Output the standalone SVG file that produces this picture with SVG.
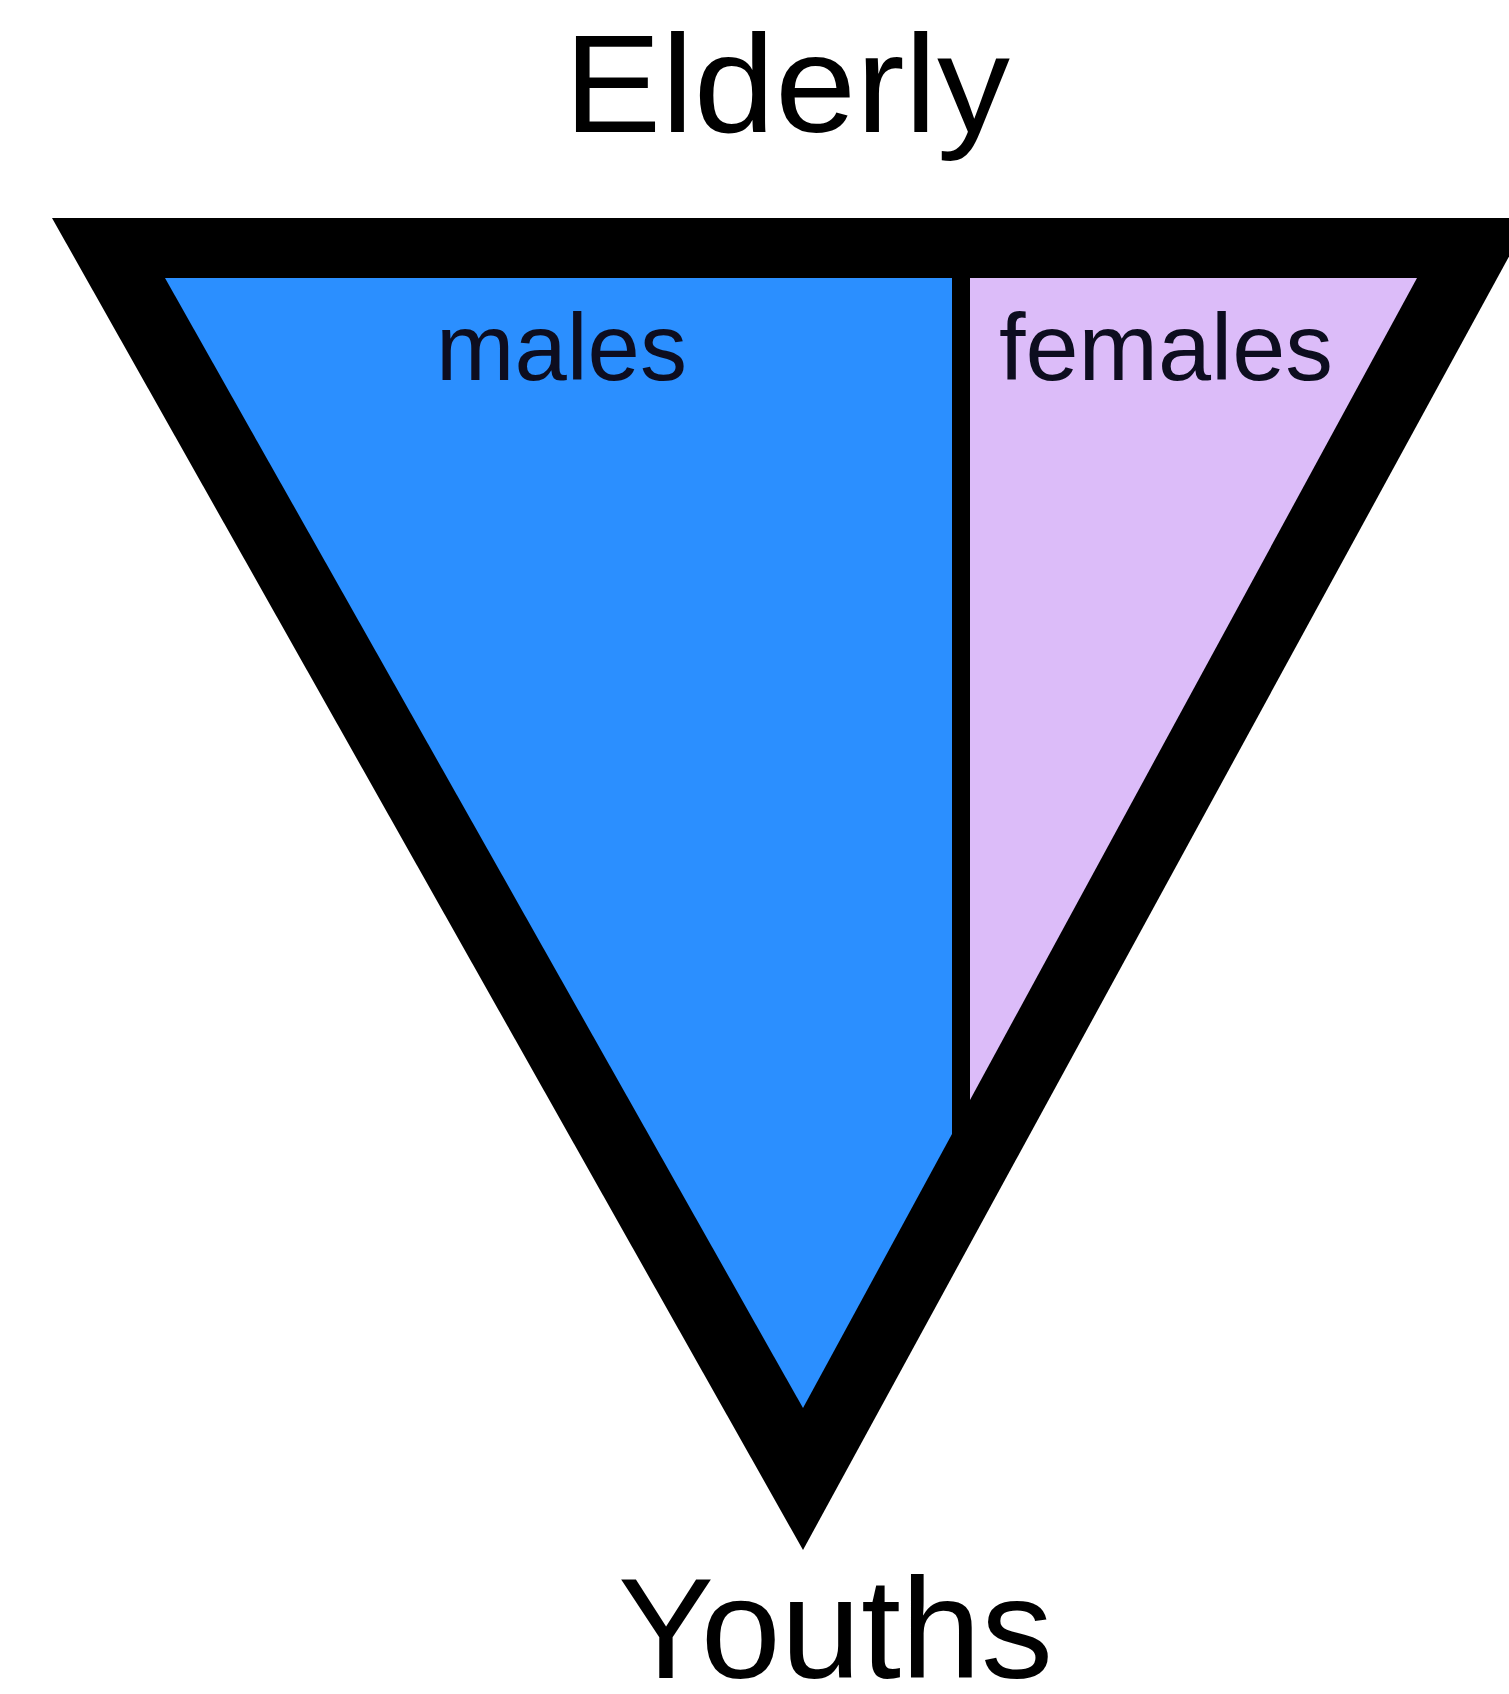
<svg xmlns="http://www.w3.org/2000/svg" width="1509" height="1694" viewBox="0 0 1509 1694">
<style>
.lbl{font-family:"Liberation Sans","DejaVu Sans",Arial,sans-serif;fill:#000;}
.big{font-size:140px;}
.mid{font-size:95px;fill:#0d0d1f;}
</style>
<rect width="1509" height="1694" fill="#fff"/>
<g id="pyramid">
<polygon id="outer" points="52,218 1530,218 803,1550" fill="#000"/>
<polygon id="males" points="165,278 952,278 952,1134 803,1408" fill="#2b8fff"/>
<polygon id="females" points="970,278 1417,278 970,1100" fill="#dcbcf9"/>
</g>
<g id="labels">
<text class="lbl big" x="564" y="132" textLength="446" lengthAdjust="spacingAndGlyphs">Elderly</text>
<text class="lbl mid" x="436" y="380" textLength="251" lengthAdjust="spacingAndGlyphs">males</text>
<text class="lbl mid" x="999" y="380" textLength="334" lengthAdjust="spacingAndGlyphs">females</text>
<text class="lbl big" x="618" y="1678" textLength="435" lengthAdjust="spacingAndGlyphs" style="font-size:142px">Youths</text>
</g>
</svg>
